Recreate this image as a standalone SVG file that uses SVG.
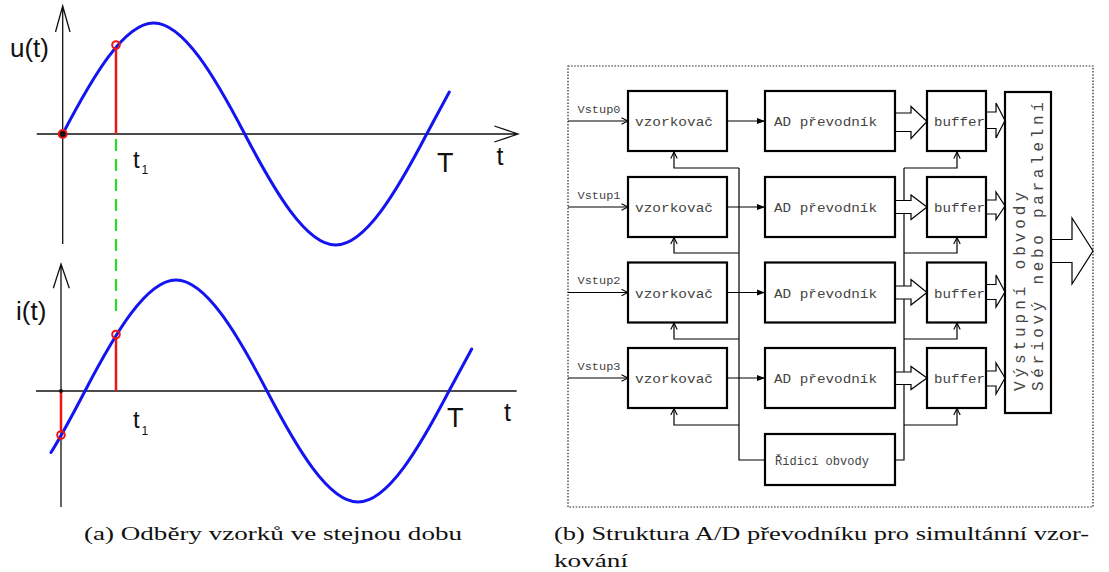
<svg xmlns="http://www.w3.org/2000/svg" width="1109" height="572" viewBox="0 0 1109 572">
<defs>
<style>
.ax{stroke:#111;stroke-width:1.3;fill:none}
.sine{stroke:#1414f0;stroke-width:3;fill:none;stroke-linecap:round}
.red{stroke:#ee1515;stroke-width:2.5;fill:none}
.redc{stroke:#ee1515;stroke-width:2;fill:none}
.lbl{font-family:"Liberation Sans",Arial,sans-serif;fill:#111}
.box{fill:#fff;stroke:#000;stroke-width:2.2}
.mono{font-family:"Liberation Mono","Courier New",monospace;fill:#444}
.ln{stroke:#000;stroke-width:1.2;fill:none}
.hollow{fill:#fff;stroke:#000;stroke-width:1.2;stroke-linejoin:miter}
.cap{font-family:"Liberation Serif","Times New Roman",serif;font-size:19px;fill:#111}
</style>
<marker id="open" viewBox="0 0 8 8" refX="7.5" refY="4" markerWidth="8" markerHeight="8" markerUnits="userSpaceOnUse" orient="auto">
<path d="M1,0.8 L7.5,4 L1,7.2" fill="none" stroke="#000" stroke-width="1.1"/>
</marker>
<marker id="filled" viewBox="0 0 8 8" refX="8" refY="4" markerWidth="8" markerHeight="8" markerUnits="userSpaceOnUse" orient="auto">
<path d="M0,1 L8,4 L0,7 z" fill="#000"/>
</marker>
</defs>
<rect width="1109" height="572" fill="#fff"/>

<!-- (a) top plot u(t) -->
<g id="plot-u">
<path class="ax" d="M62.7,244 V6 M55.5,32 L62.7,6 L70,32"/>
<path class="ax" d="M36.7,134 H518 M494.3,126 L518,134 L494.3,142"/>
<line x1="116" y1="139" x2="116" y2="318" stroke="#22dd22" stroke-width="2.2" stroke-dasharray="12 8"/>
<path class="sine" d="M62.7,134 C92.38,77.13 124,23 153.7,23 C183.4,23 215.02,77.13 244.7,134 C274.38,190.87 306,245 335.7,245 C365.4,245 397.02,190.87 426.7,134 L449.3,92"/>
<line class="red" x1="116" y1="134" x2="116" y2="49"/>
<circle class="redc" cx="116" cy="45" r="3.8"/>
<circle cx="62.7" cy="134" r="4" fill="#111" stroke="#ee1515" stroke-width="2"/>
<text class="lbl" x="10" y="56.7" font-size="26">u(t)</text>
<text class="lbl" x="133" y="168" font-size="24">t</text>
<text class="lbl" x="141.5" y="174" font-size="12">1</text>
<text class="lbl" x="437" y="171.5" font-size="27">T</text>
<text class="lbl" x="496.5" y="165" font-size="25">t</text>
</g>

<!-- (a) bottom plot i(t) -->
<g id="plot-i">
<path class="ax" d="M61,507 V264 M53.3,288.3 L61,264 L69.3,288.3"/>
<path class="ax" d="M36,391 H516.7"/>
<path class="sine" d="M51,452.5 C62.33,434.42 73.67,412.71 85,391 C114.68,334.13 146.3,280 176,280 C205.7,280 237.32,334.13 267,391 C296.68,447.87 328.3,502 358,502 C387.7,502 419.32,447.87 449,391 L471.7,349"/>
<line class="red" x1="61" y1="391" x2="61" y2="431"/>
<circle class="redc" cx="61" cy="435" r="3.8"/>
<line class="red" x1="116" y1="391" x2="116" y2="338.5"/>
<circle class="redc" cx="116" cy="334.5" r="3.8"/>
<circle cx="61" cy="391" r="2" fill="#111"/>
<text class="lbl" x="16" y="320" font-size="26">i(t)</text>
<text class="lbl" x="133" y="428.3" font-size="24">t</text>
<text class="lbl" x="141.5" y="434.5" font-size="12">1</text>
<text class="lbl" x="447" y="426.7" font-size="27">T</text>
<text class="lbl" x="504" y="421" font-size="25">t</text>
</g>

<!-- (b) block diagram -->
<rect id="frame" x="568" y="66" width="525" height="441" fill="none" stroke="#222" stroke-width="1.2" stroke-dasharray="1.5 1.6"/>

<g id="connectors">
<line class="ln" x1="568" y1="121" x2="628" y2="121" marker-end="url(#open)"/>
<line class="ln" x1="568" y1="207" x2="628" y2="207" marker-end="url(#open)"/>
<line class="ln" x1="568" y1="292.5" x2="628" y2="292.5" marker-end="url(#open)"/>
<line class="ln" x1="568" y1="378" x2="628" y2="378" marker-end="url(#open)"/>
<line class="ln" x1="727" y1="121" x2="765" y2="121" marker-end="url(#filled)"/>
<line class="ln" x1="727" y1="207" x2="765" y2="207" marker-end="url(#filled)"/>
<line class="ln" x1="727" y1="292.5" x2="765" y2="292.5" marker-end="url(#filled)"/>
<line class="ln" x1="727" y1="378" x2="765" y2="378" marker-end="url(#filled)"/>
<path class="ln" d="M765,460 H739 V168"/>
<path class="ln" d="M739,168 H674 V152" marker-end="url(#open)"/>
<path class="ln" d="M739,253 H674 V237.5" marker-end="url(#open)"/>
<path class="ln" d="M739,339 H674 V323" marker-end="url(#open)"/>
<path class="ln" d="M739,425 H674 V408.5" marker-end="url(#open)"/>
<path class="ln" d="M895,460 H904 V168"/>
<path class="ln" d="M904,168 H957 V152" marker-end="url(#open)"/>
<path class="ln" d="M904,253 H957 V237.5" marker-end="url(#open)"/>
<path class="ln" d="M904,339 H957 V323" marker-end="url(#open)"/>
<path class="ln" d="M904,425 H957 V408.5" marker-end="url(#open)"/>
<polygon class="hollow" points="895,113 911,113 911,106.5 927,121.5 911,138.5 911,131.5 895,131.5"/>
<polygon class="hollow" points="895,200.5 911,200.5 911,195 927,207 911,219.5 911,213.5 895,213.5"/>
<polygon class="hollow" points="895,286 911,286 911,279.5 927,292.5 911,305 911,299 895,299"/>
<polygon class="hollow" points="895,372 911,372 911,366.5 927,378 911,389.5 911,384.5 895,384.5"/>
<polygon class="hollow" points="986,112 996,112 996,103 1005,120.5 996,138 996,128.5 986,128.5"/>
<polygon class="hollow" points="986,200 996,200 996,192 1005,206 996,219.5 996,214 986,214"/>
<polygon class="hollow" points="986,284.5 996,284.5 996,275 1005,292 996,307 996,299.5 986,299.5"/>
<polygon class="hollow" points="986,371 996,371 996,363 1005,378 996,394 996,386 986,386"/>
<polygon class="hollow" points="1051,239.5 1072,239.5 1072,218 1093,251 1072,284 1072,262.5 1051,262.5"/>
</g>

<g id="labels-inputs">
<text class="mono" x="577.5" y="112.5" font-size="11.5" textLength="43" lengthAdjust="spacingAndGlyphs">Vstup0</text>
<text class="mono" x="577.5" y="198.5" font-size="11.5" textLength="43" lengthAdjust="spacingAndGlyphs">Vstup1</text>
<text class="mono" x="577.5" y="284" font-size="11.5" textLength="43" lengthAdjust="spacingAndGlyphs">Vstup2</text>
<text class="mono" x="577.5" y="369.5" font-size="11.5" textLength="43" lengthAdjust="spacingAndGlyphs">Vstup3</text>
</g>

<g id="vzorkovac0"><rect class="box" x="628" y="91" width="99" height="60"/><text class="mono" x="635" y="126" font-size="13" textLength="78" lengthAdjust="spacingAndGlyphs">vzorkovač</text></g>
<g id="vzorkovac1"><rect class="box" x="628" y="177" width="99" height="60"/><text class="mono" x="635" y="212" font-size="13" textLength="78" lengthAdjust="spacingAndGlyphs">vzorkovač</text></g>
<g id="vzorkovac2"><rect class="box" x="628" y="262.5" width="99" height="60"/><text class="mono" x="635" y="297.5" font-size="13" textLength="78" lengthAdjust="spacingAndGlyphs">vzorkovač</text></g>
<g id="vzorkovac3"><rect class="box" x="628" y="348" width="99" height="60"/><text class="mono" x="635" y="383" font-size="13" textLength="78" lengthAdjust="spacingAndGlyphs">vzorkovač</text></g>

<g id="ad0"><rect class="box" x="765" y="91" width="130" height="60"/><text class="mono" x="774" y="126" font-size="13" textLength="103" lengthAdjust="spacingAndGlyphs">AD převodník</text></g>
<g id="ad1"><rect class="box" x="765" y="177" width="130" height="60"/><text class="mono" x="774" y="212" font-size="13" textLength="103" lengthAdjust="spacingAndGlyphs">AD převodník</text></g>
<g id="ad2"><rect class="box" x="765" y="262.5" width="130" height="60"/><text class="mono" x="774" y="297.5" font-size="13" textLength="103" lengthAdjust="spacingAndGlyphs">AD převodník</text></g>
<g id="ad3"><rect class="box" x="765" y="348" width="130" height="60"/><text class="mono" x="774" y="383" font-size="13" textLength="103" lengthAdjust="spacingAndGlyphs">AD převodník</text></g>

<g id="buffer0"><rect class="box" x="927" y="91" width="59" height="60"/><text class="mono" x="934" y="126" font-size="13" textLength="51" lengthAdjust="spacingAndGlyphs">buffer</text></g>
<g id="buffer1"><rect class="box" x="927" y="177" width="59" height="60"/><text class="mono" x="934" y="212" font-size="13" textLength="51" lengthAdjust="spacingAndGlyphs">buffer</text></g>
<g id="buffer2"><rect class="box" x="927" y="262.5" width="59" height="60"/><text class="mono" x="934" y="297.5" font-size="13" textLength="51" lengthAdjust="spacingAndGlyphs">buffer</text></g>
<g id="buffer3"><rect class="box" x="927" y="348" width="59" height="60"/><text class="mono" x="934" y="383" font-size="13" textLength="51" lengthAdjust="spacingAndGlyphs">buffer</text></g>

<g id="ridici"><rect class="box" x="765" y="434" width="130" height="51"/><text class="mono" x="775" y="465" font-size="12" textLength="94" lengthAdjust="spacingAndGlyphs">Řídicí obvody</text></g>

<g id="vystup">
<rect class="box" x="1005" y="92" width="46" height="321"/>
<text class="mono" transform="translate(1025,391) rotate(-90)" font-size="16" textLength="199" lengthAdjust="spacing">Výstupní obvody</text>
<text class="mono" transform="translate(1042.5,391) rotate(-90)" font-size="16" textLength="289" lengthAdjust="spacing">Sériový nebo paralelní</text>
</g>

<g id="captions">
<text class="cap" x="84" y="540" textLength="378" lengthAdjust="spacingAndGlyphs">(a) Odběry vzorků ve stejnou dobu</text>
<text class="cap" x="554" y="540" textLength="535" lengthAdjust="spacingAndGlyphs">(b) Struktura A/D převodníku pro simultánní vzor-</text>
<text class="cap" x="554" y="567" textLength="74" lengthAdjust="spacingAndGlyphs">kování</text>
</g>
</svg>
